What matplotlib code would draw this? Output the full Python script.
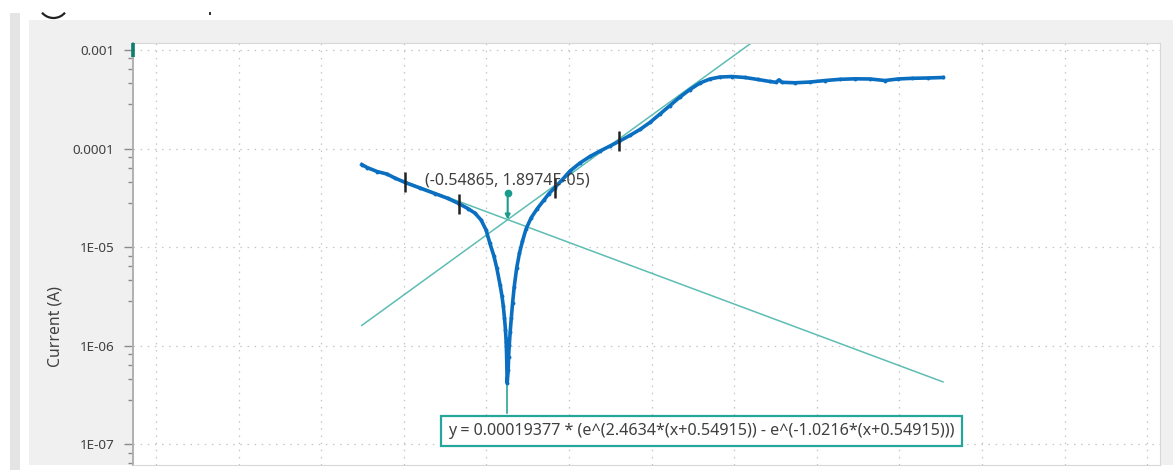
import matplotlib.pyplot as plt
import matplotlib.patches as patches
from matplotlib.transforms import IdentityTransform, offset_copy
from matplotlib.ticker import FixedLocator, NullFormatter
import numpy as np

plt.rcParams['font.family'] = ['Noto Sans', 'DejaVu Sans']

# polarisation scan: potential (V) and |current| (A)
potential = [-0.902, -0.889, -0.865, -0.841, -0.822, -0.797, -0.761, -0.725, -0.693, -0.667,
             -0.645, -0.628, -0.613, -0.601, -0.592, -0.582, -0.575, -0.567, -0.5625, -0.5593,
             -0.5564, -0.5540, -0.5523, -0.5513, -0.5506, -0.5499, -0.5474, -0.5465, -0.5448, -0.5426,
             -0.5399, -0.5368, -0.5329, -0.5269, -0.5201, -0.5128, -0.5043, -0.4922, -0.4777, -0.4608,
             -0.4487, -0.4341, -0.4172, -0.3978, -0.3736, -0.3494, -0.3252, -0.3010, -0.2792, -0.2525,
             -0.2283, -0.2041, -0.1799, -0.1557, -0.1315, -0.1073, -0.0830, -0.0588, -0.0346, -0.0056,
             0.0259, 0.0574, 0.0865, 0.1010, 0.1083, 0.1155, 0.1470, 0.1833, 0.2196, 0.2560,
             0.2923, 0.3286, 0.3649, 0.3964, 0.4303, 0.4690, 0.5054]
current = [6.88e-5, 6.41e-5, 5.84e-5, 5.51e-5, 5.02e-5, 4.52e-5, 3.97e-5, 3.49e-5, 3.11e-5, 2.76e-5,
           2.46e-5, 2.21e-5, 1.88e-5, 1.49e-5, 1.10e-5, 8.10e-6, 6.12e-6, 4.11e-6, 3.18e-6, 2.52e-6,
           1.90e-6, 1.44e-6, 1.08e-6, 8.01e-7, 5.91e-7, 4.16e-7, 5.64e-7, 7.64e-7, 1.01e-6, 1.37e-6,
           1.90e-6, 2.70e-6, 3.93e-6, 6.12e-6, 8.69e-6, 1.15e-5, 1.52e-5, 1.97e-5, 2.43e-5, 3.00e-5,
           3.49e-5, 4.02e-5, 4.79e-5, 5.91e-5, 7.13e-5, 8.30e-5, 9.43e-5, 1.06e-4, 1.18e-4, 1.36e-4,
           1.56e-4, 1.84e-4, 2.24e-4, 2.73e-4, 3.33e-4, 3.97e-4, 4.62e-4, 5.08e-4, 5.32e-4, 5.38e-4,
           5.26e-4, 5.02e-4, 4.79e-4, 4.70e-4, 4.98e-4, 4.70e-4, 4.65e-4, 4.73e-4, 4.90e-4, 5.04e-4,
           5.10e-4, 5.08e-4, 4.90e-4, 5.08e-4, 5.16e-4, 5.20e-4, 5.26e-4]

# Tafel extrapolation
e_corr = -0.54865
i_corr = 1.8974e-05
beta_a = 0.329   # V/decade
beta_c = 0.64    # V/decade
fit_marks_e = [-0.797, -0.667, -0.434, -0.279]
fit_marks_i = [4.52e-5, 2.76e-5, 4.02e-5, 1.18e-4]

# Butler-Volmer fit
bv_i0 = 0.00019377
bv_a = 2.4634
bv_c = 1.0216
bv_e0 = -0.54915
bv_lead_i = [2.07e-7, 1.2e-6]

ytick_vals = [1e-7, 1e-6, 1e-5, 1e-4, 1e-3]
ytick_labels = ['1E-07', '1E-06', '1E-05', '0.0001', '0.001']
xgrid = [-1.4, -1.2, -1.0, -0.8, -0.6, -0.4, -0.2, 0.0, 0.2, 0.4, 0.6, 0.8, 1.0]

blue = '#0b6fc1'
teal = '#5dbdb3'
pin = '#1a9c8c'
txt = '#404040'

W, H = 1173, 470
fig = plt.figure(figsize=(W / 100, H / 100), dpi=100)
fig.patch.set_facecolor('white')

def px_rect(x0, y0, x1, y1, color):
    fig.add_artist(patches.Rectangle((x0, H - y1), x1 - x0, y1 - y0, transform=IdentityTransform(),
                                     facecolor=color, edgecolor='none', zorder=0))

px_rect(10, 13, 20, 470, '#e4e4e4')
px_rect(29, 20, 1173, 465, '#f0f0f0')
fig.add_artist(patches.Arc((53.5, H - 3), 30, 30, theta1=220, theta2=320, transform=IdentityTransform(),
                           color='#222222', lw=1.6))
px_rect(209, 12, 211, 15, '#333333')

ax = fig.add_axes([133 / W, 5 / H, (1160 - 133) / W, (465 - 43) / H])
ax.set_facecolor('white')
ax.set_yscale('log')
ax.set_xlim(-1.456, 1.031)
ax.set_ylim(6.13e-8, 1.178e-3)

ax.set_yticks(ytick_vals)
ax.set_yticklabels(ytick_labels)
minors = [m * 10.0 ** k for k in range(-8, -3) for m in (2.8, 4.6, 6.4, 8.2)]
ax.yaxis.set_minor_locator(FixedLocator(minors))
ax.yaxis.set_minor_formatter(NullFormatter())
ax.tick_params(axis='y', which='major', length=6.5, width=1, color='#8a8a8a', labelsize=9.7,
               labelcolor=txt, pad=7)
ax.tick_params(axis='y', which='minor', length=3.3, width=1, color='#8a8a8a')
ax.set_xticks(xgrid)
ax.tick_params(axis='x', which='both', length=0, labelbottom=False)

ax.grid(True, which='major', color='#c4c4c4', lw=0.9, linestyle=(0, (1.2, 4.5)))
for side in ['top', 'right', 'bottom']:
    ax.spines[side].set_color('#d8d8d8')
ax.spines['left'].set_color('#b0b0b0')
ax.spines['left'].set_linewidth(1.4)

fig.text(55 / W, 1 - 327 / H, 'Current (A)', rotation=90, ha='center', va='center',
         fontsize=11.3, color=txt)

# marker on the axis top
ax.plot([-1.456, -1.456], [1.178e-3, 8.5e-4], color='#0e7d70', lw=2.6, clip_on=False,
        solid_capstyle='butt', zorder=6)

# Tafel lines across the scan range
e_span = np.array([potential[0], potential[-1]])
ax.plot(e_span, i_corr * 10 ** ((e_span - e_corr) / beta_a), color=teal, lw=1.1, zorder=2)
ax.plot(e_span, i_corr * 10 ** (-(e_span - e_corr) / beta_c), color=teal, lw=1.1, zorder=2)

# measured data
ax.plot(potential, current, color=blue, lw=2.6, marker='o', ms=2.8, mew=0, zorder=3)
ax.plot(fit_marks_e, fit_marks_i, linestyle='none', marker='|', ms=14, mew=1.8,
        color='#222222', zorder=4)

# Butler-Volmer fit leader and equation
ax.plot([bv_e0, bv_e0], bv_lead_i, color=pin, lw=1.1, zorder=2)
eq = f"y = {bv_i0:.8f} * (e^({bv_a}*(x+{-bv_e0})) - e^(-{bv_c}*(x+{-bv_e0})))"
ax.text((701 - 133) / 1027, (465 - 431) / 422, eq, transform=ax.transAxes, ha='center', va='center',
        fontsize=11.6, color=txt, zorder=7,
        bbox=dict(boxstyle='square,pad=0.45', fc='white', ec='#26a69a', lw=1.6))

# Ecorr / icorr pin
ax.annotate('', xy=(e_corr, i_corr), xytext=(0, 19.5), textcoords='offset points',
            arrowprops=dict(arrowstyle='-|>', color=pin, lw=1.5, mutation_scale=7,
                            shrinkA=0, shrinkB=0), zorder=5)
top = offset_copy(ax.transData, fig=fig, x=0, y=19.5, units='points')
ax.plot(e_corr, i_corr, marker='o', ms=4.5, color=pin, transform=top, zorder=5)
ax.annotate(f"({e_corr}, {i_corr:.4E})", xy=(e_corr, i_corr), xytext=(0, 25.5),
            textcoords='offset points', ha='center', va='baseline', fontsize=11.5, color=txt,
            zorder=6)

fig.savefig('out.png', dpi=100)
